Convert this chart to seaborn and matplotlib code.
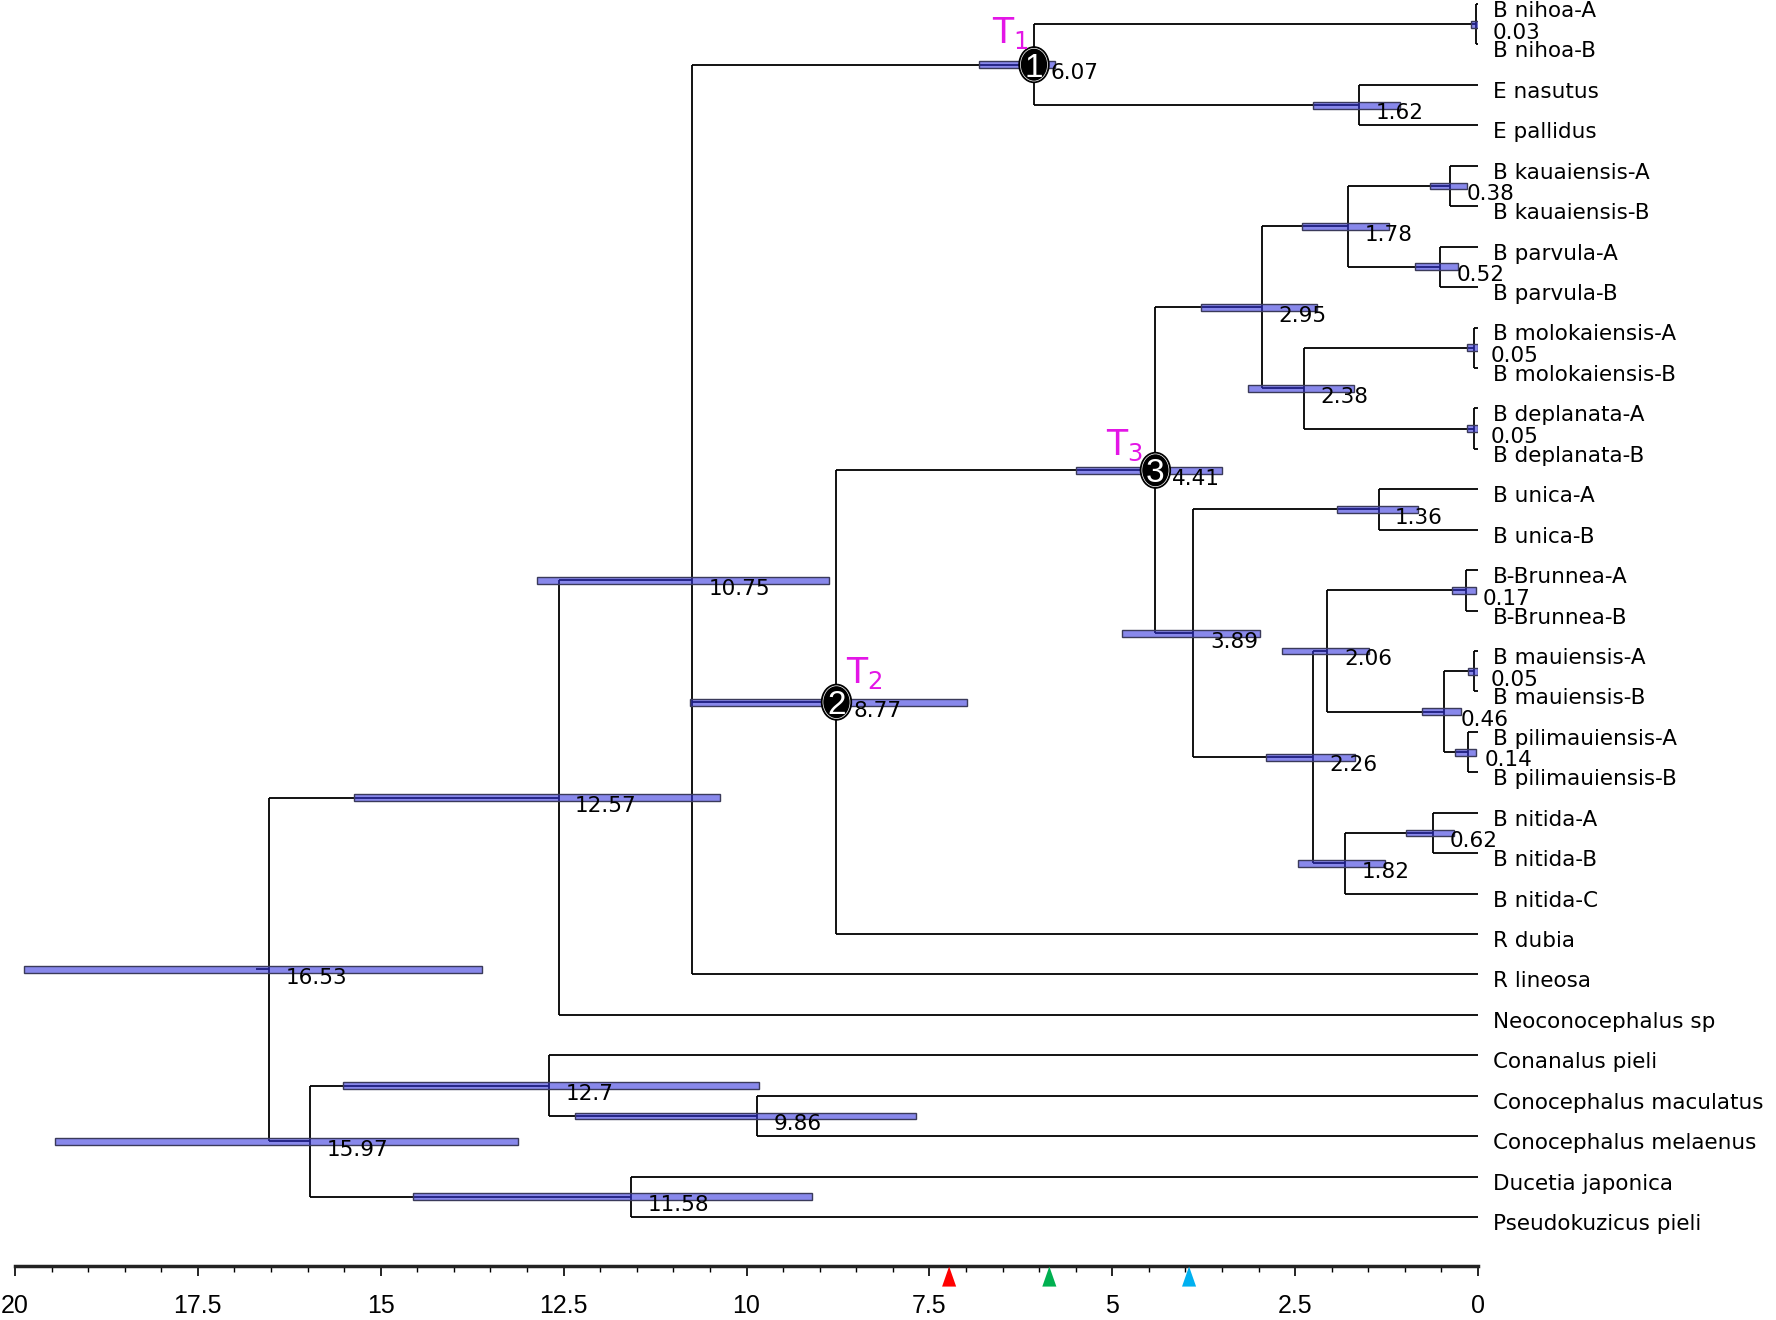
import numpy as np
import matplotlib
matplotlib.use('Agg')
import matplotlib.pyplot as plt
import seaborn as sns
from matplotlib import font_manager
from matplotlib.patches import Ellipse
from matplotlib.path import Path

# --- DATA ---
taxa = ["B nihoa-A", "B nihoa-B", "E nasutus", "E pallidus",
        "B kauaiensis-A", "B kauaiensis-B", "B parvula-A", "B parvula-B",
        "B molokaiensis-A", "B molokaiensis-B", "B deplanata-A", "B deplanata-B",
        "B unica-A", "B unica-B", "B-Brunnea-A", "B-Brunnea-B",
        "B mauiensis-A", "B mauiensis-B", "B pilimauiensis-A", "B pilimauiensis-B",
        "B nitida-A", "B nitida-B", "B nitida-C", "R dubia", "R lineosa",
        "Neoconocephalus sp", "Conanalus pieli", "Conocephalus maculatus",
        "Conocephalus melaenus", "Ducetia japonica", "Pseudokuzicus pieli"]

# internal nodes (post-order), children by taxon name or node id
node_ids = ["n%d" % i for i in range(29)]
node_children = [
    ["B nihoa-A", "B nihoa-B"],                 # n0
    ["E nasutus", "E pallidus"],                # n1
    ["n0", "n1"],                               # n2
    ["B kauaiensis-A", "B kauaiensis-B"],       # n3
    ["B parvula-A", "B parvula-B"],             # n4
    ["n3", "n4"],                               # n5
    ["B molokaiensis-A", "B molokaiensis-B"],   # n6
    ["B deplanata-A", "B deplanata-B"],         # n7
    ["n6", "n7"],                               # n8
    ["n5", "n8"],                               # n9
    ["B unica-A", "B unica-B"],                 # n10
    ["B-Brunnea-A", "B-Brunnea-B"],             # n11
    ["B mauiensis-A", "B mauiensis-B"],         # n12
    ["B pilimauiensis-A", "B pilimauiensis-B"], # n13
    ["n12", "n13"],                             # n14
    ["n11", "n14"],                             # n15
    ["B nitida-A", "B nitida-B"],               # n16
    ["n16", "B nitida-C"],                      # n17
    ["n15", "n17"],                             # n18
    ["n10", "n18"],                             # n19
    ["n9", "n19"],                              # n20
    ["n20", "R dubia"],                         # n21
    ["n2", "n21", "R lineosa"],                 # n22
    ["n22", "Neoconocephalus sp"],              # n23
    ["Conocephalus maculatus", "Conocephalus melaenus"],  # n24
    ["Conanalus pieli", "n24"],                 # n25
    ["Ducetia japonica", "Pseudokuzicus pieli"],  # n26
    ["n25", "n26"],                             # n27
    ["n23", "n27"],                             # n28 (root)
]
node_age = [0.03, 1.62, 6.07, 0.38, 0.52, 1.78, 0.05, 0.05, 2.38, 2.95,
            1.36, 0.17, 0.05, 0.14, 0.46, 2.06, 0.62, 1.82, 2.26, 3.89,
            4.41, 8.77, 10.75, 12.57, 9.86, 12.7, 11.58, 15.97, 16.53]
hpd_old = [0.10, 2.26, 6.82, 0.66, 0.86, 2.40, 0.15, 0.15, 3.14, 3.79,
           1.93, 0.35, 0.14, 0.31, 0.77, 2.68, 0.98, 2.46, 2.90, 4.86,
           5.50, 10.77, 12.86, 15.37, 12.34, 15.51, 14.56, 19.45, 19.88]
hpd_young = [0.00, 1.07, 5.78, 0.15, 0.27, 1.22, 0.00, 0.00, 1.69, 2.20,
             0.82, 0.03, 0.00, 0.03, 0.23, 1.49, 0.33, 1.27, 1.68, 2.98,
             3.50, 6.98, 8.87, 10.36, 7.68, 9.83, 9.10, 13.12, 13.62]
root_age = 16.71

# numbered calibration nodes
marked_nodes = ["n2", "n21", "n20"]
marked_numbers = ["1", "2", "3"]
marked_T = [r"T$_1$", r"T$_2$", r"T$_3$"]

# events on the time axis
event_ages = [7.23, 5.86, 3.95]
event_colors = ["#ff0000", "#00b050", "#00b0f0"]

tick_values = np.arange(0, 20.1, 2.5)

# --- STYLE ---
sns.set_style("white")
plt.rcParams['font.family'] = ['DejaVu Sans']
plt.rcParams['mathtext.default'] = 'regular'
plt.rcParams['text.color'] = 'black'
plt.rcParams['xtick.color'] = 'black'

installed = {f.name for f in font_manager.fontManager.ttflist}
if 'Liberation Sans Narrow' in installed:
    NARROW, tick_size, digit_size = ['Liberation Sans Narrow'], 22, 27
else:
    NARROW, tick_size, digit_size = ['Liberation Sans'], 18, 24

fig = plt.figure(figsize=(17.76, 13.2), dpi=100)
ax = fig.add_axes([15 / 1776, 54 / 1320, 1463 / 1776, 1266 / 1320])

# layout: tips evenly spaced, internal nodes at mean of children
ypos = {t: float(i) for i, t in enumerate(taxa)}
xpos = {t: 0.0 for t in taxa}
for nid, kids, age in zip(node_ids, node_children, node_age):
    ypos[nid] = float(np.mean([ypos[k] for k in kids]))
    xpos[nid] = age

# branches
for nid, kids in zip(node_ids, node_children):
    ys = [ypos[k] for k in kids]
    ax.vlines(xpos[nid], min(ys), max(ys), color='black', lw=1.3, zorder=1)
    for k in kids:
        ax.hlines(ypos[k], xpos[nid], xpos[k], color='black', lw=1.3, zorder=1)
root = node_ids[-1]
ax.hlines(ypos[root], root_age, xpos[root], color='black', lw=1.3, zorder=1)

# 95% HPD bars
ax.barh([ypos[n] for n in node_ids],
        np.array(hpd_old) - np.array(hpd_young),
        left=hpd_young, height=0.17,
        color=(0.2, 0.2, 0.87, 0.58), edgecolor='#3a3a5a', lw=1, zorder=2)

# node ages
for nid, age in zip(node_ids, node_age):
    ax.annotate(f"{age:g}", (age, ypos[nid]), xytext=(12, -6),
                textcoords='offset points', ha='left', va='center',
                fontsize=15.5, zorder=4, annotation_clip=False)

# tip labels
for t in taxa:
    ax.annotate(t, (0, ypos[t]), xytext=(10.8, -5), textcoords='offset points',
                ha='left', va='center', fontsize=15.5, annotation_clip=False)

# numbered nodes and T labels
t_offsets = [(-4, 10, 'right'), (7, 8, 'left'), (-9, 5, 'right')]
for nid, num, tl, (dx, dy, ha) in zip(marked_nodes, marked_numbers, marked_T, t_offsets):
    x, y = xpos[nid], ypos[nid]
    ax.add_patch(Ellipse((x, y), 0.41, 0.88, fc='black', ec='black', lw=1, zorder=5))
    ax.add_patch(Ellipse((x, y), 0.37, 0.81, fc='none', ec='white', lw=0.5, zorder=5))
    ax.text(x, y, num, color='white', ha='center', va='center_baseline',
            fontsize=digit_size, family=NARROW, zorder=6)
    ax.annotate(tl, (x, y), xytext=(dx, dy), textcoords='offset points',
                ha=ha, va='bottom', fontsize=25, color='#e316e6', zorder=6)

# axis
ax.set_xlim(20, 0)
ybot = len(taxa) + 0.21
ax.set_ylim(ybot, -0.1)
ax.set_yticks([])
ax.set_xticks(tick_values)
ax.set_xticklabels([f"{v:g}" for v in tick_values])
ax.set_xticks(np.arange(0, 20.01, 0.5), minor=True)
ax.tick_params(axis='x', which='major', length=7.5, width=1.2, direction='out',
               pad=13, labelsize=tick_size, bottom=True)
ax.tick_params(axis='x', which='minor', length=4, width=1, direction='out', bottom=True)
for lab in ax.get_xticklabels():
    lab.set_family(NARROW)
for s in ['left', 'top', 'right']:
    ax.spines[s].set_visible(False)
ax.spines['bottom'].set_linewidth(2.5)
ax.spines['bottom'].set_color('#222222')

# event markers below the axis
tri = Path([(0, 0.5), (0.35, -0.5), (-0.35, -0.5), (0, 0.5)],
           [Path.MOVETO, Path.LINETO, Path.LINETO, Path.CLOSEPOLY])
sns.scatterplot(x=event_ages, y=[ybot + 0.26] * len(event_ages),
                hue=event_colors, palette={c: c for c in event_colors},
                marker=tri, s=210, linewidth=0, legend=False, ax=ax,
                clip_on=False, zorder=6)

fig.savefig('out.png', dpi=100)
